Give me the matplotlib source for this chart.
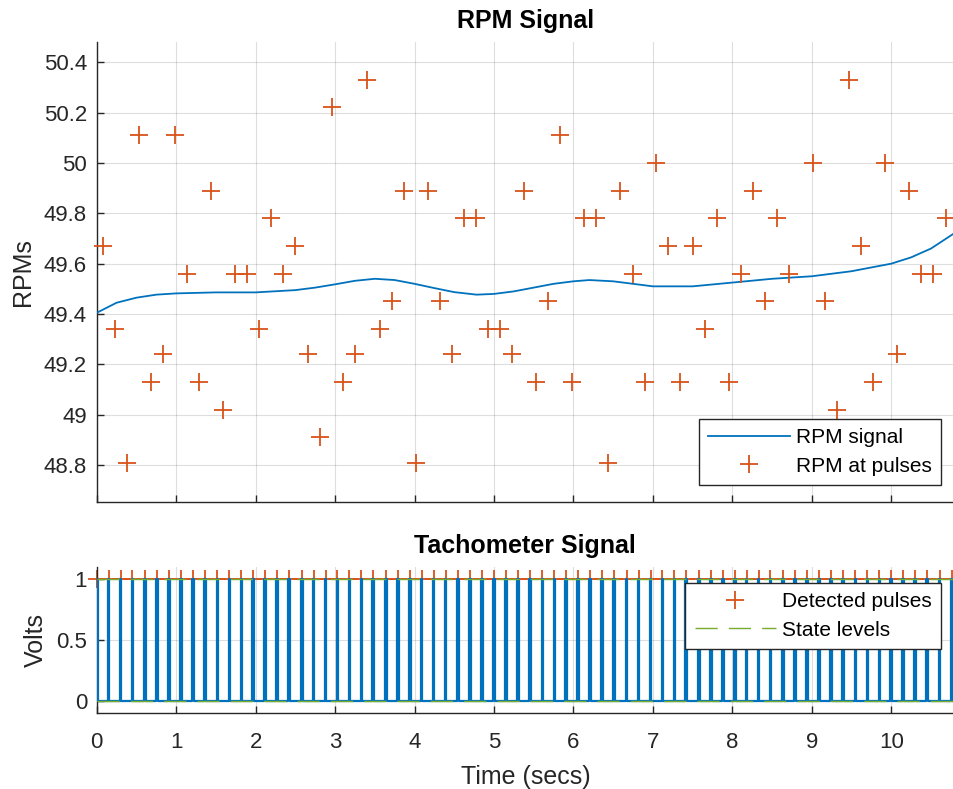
import matplotlib
matplotlib.use('Agg')
import matplotlib.pyplot as plt
from matplotlib.ticker import FormatStrFormatter
import numpy as np

plt.rcParams['font.family'] = ['Liberation Sans', 'DejaVu Sans']

# pulse times of the tachometer signal (secs)
pulse_times = [0.00, 0.15, 0.30, 0.45, 0.61, 0.76, 0.91, 1.06, 1.21, 1.36,
               1.52, 1.67, 1.82, 1.97, 2.12, 2.27, 2.42, 2.58, 2.73, 2.88,
               3.03, 3.18, 3.33, 3.48, 3.64, 3.79, 3.94, 4.09, 4.24, 4.39,
               4.55, 4.70, 4.85, 5.00, 5.15, 5.30, 5.45, 5.61, 5.76, 5.91,
               6.06, 6.21, 6.36, 6.51, 6.67, 6.82, 6.97, 7.12, 7.27, 7.42,
               7.58, 7.73, 7.88, 8.03, 8.18, 8.33, 8.48, 8.64, 8.79, 8.94,
               9.09, 9.24, 9.39, 9.55, 9.70, 9.85, 10.00, 10.15, 10.30, 10.45,
               10.61, 10.76]

# rpm estimated between consecutive pulses
rpm_at_pulses = [49.67, 49.34, 48.81, 50.11, 49.13, 49.24, 50.11, 49.56, 49.13, 49.89,
                 49.02, 49.56, 49.56, 49.34, 49.78, 49.56, 49.67, 49.24, 48.91, 50.22,
                 49.13, 49.24, 50.33, 49.34, 49.45, 49.89, 48.81, 49.89, 49.45, 49.24,
                 49.78, 49.78, 49.34, 49.34, 49.24, 49.89, 49.13, 49.45, 50.11, 49.13,
                 49.78, 49.78, 48.81, 49.89, 49.56, 49.13, 50.00, 49.67, 49.13, 49.67,
                 49.34, 49.78, 49.13, 49.56, 49.89, 49.45, 49.78, 49.56, 48.91, 50.00,
                 49.45, 49.02, 50.33, 49.67, 49.13, 50.00, 49.24, 49.89, 49.56, 49.56,
                 49.78]

# smooth rpm signal
rpm_t = [0.0, 0.25, 0.5, 0.75, 1.0, 1.5, 2.0, 2.5, 2.75, 3.0, 3.25, 3.5, 3.75,
         4.0, 4.25, 4.5, 4.78, 5.0, 5.25, 5.5, 5.75, 6.0, 6.2, 6.5, 6.75, 7.0,
         7.5, 8.0, 8.5, 9.0, 9.5, 10.0, 10.25, 10.5, 10.79]
rpm_sig = [49.405, 49.445, 49.465, 49.477, 49.482, 49.486, 49.486, 49.495, 49.505,
           49.518, 49.532, 49.54, 49.535, 49.52, 49.503, 49.487, 49.477, 49.48,
           49.49, 49.505, 49.52, 49.53, 49.535, 49.53, 49.52, 49.51, 49.51, 49.525,
           49.54, 49.55, 49.57, 49.60, 49.625, 49.66, 49.72]

state_levels = [0, 1]

BLUE = '#0072BD'
ORANGE = '#D95319'
GREEN = '#77AC30'
DARK = '#262626'

X_MAX = 10.79
PULSE_W = 0.01

pt = np.array(pulse_times)
mid_t = (pt[:-1] + pt[1:]) / 2

# square pulse train built from the pulse times
sig_x = np.column_stack([pt - PULSE_W, pt - PULSE_W, pt + PULSE_W, pt + PULSE_W]).ravel()
sig_y = np.tile([0, 1, 1, 0], len(pt))
sig_x = np.append(sig_x, X_MAX + 0.1)
sig_y = np.append(sig_y, 0)


def style_axes(ax):
    ax.spines['top'].set_visible(False)
    ax.spines['right'].set_visible(False)
    for s in ['left', 'bottom']:
        ax.spines[s].set_color(DARK)
        ax.spines[s].set_linewidth(1.0)
    ax.tick_params(direction='in', length=5, width=1, colors=DARK, labelsize=16)
    ax.tick_params(axis='y', pad=7)
    ax.tick_params(axis='x', pad=14)
    ax.grid(True, color=DARK, alpha=0.15, linewidth=0.8)
    ax.set_axisbelow(True)


def style_legend(leg):
    leg.get_frame().set_linewidth(1.0)
    leg.set_zorder(5)


fig = plt.figure(figsize=(9.54, 7.89), dpi=100)
ax1 = fig.add_axes([0.1014, 0.3641, 0.8986, 0.583])
ax2 = fig.add_axes([0.1014, 0.0963, 0.8986, 0.1851])

legend_kw = dict(borderaxespad=0, fontsize=15, fancybox=False, framealpha=1,
                 edgecolor=DARK, handlelength=3.9, handletextpad=0.3,
                 labelspacing=0.45, borderpad=0.45)

# ---- RPM signal
ax1.plot(rpm_t, rpm_sig, color=BLUE, lw=1.3, label='RPM signal', zorder=3)
ax1.plot(mid_t, rpm_at_pulses, '+', color=ORANGE, ms=13, mew=1.3,
         label='RPM at pulses', zorder=3, clip_on=False)
style_axes(ax1)
ax1.set_xlim(0, X_MAX)
ax1.set_ylim(48.655, 50.481)
ax1.set_xticks(range(0, 11))
ax1.set_xticklabels([])
ax1.set_yticks(np.round(np.arange(48.8, 50.41, 0.2), 1))
ax1.yaxis.set_major_formatter(FormatStrFormatter('%g'))
ax1.set_ylabel('RPMs', fontsize=18, color=DARK, labelpad=6)
ax1.set_title('RPM Signal', fontsize=18, fontweight='bold', pad=10)
leg1 = ax1.legend(loc='lower right', bbox_to_anchor=(0.985, 0.036), **legend_kw)
style_legend(leg1)

# ---- Tachometer signal
ax2.plot(sig_x, sig_y, color=BLUE, lw=1.6, label='_nolegend_', zorder=3)
ax2.plot(pt, np.ones_like(pt), '+', color=ORANGE, ms=13, mew=1.3,
         label='Detected pulses', zorder=2, clip_on=False)
for i, lvl in enumerate(state_levels):
    ax2.axhline(lvl, color=GREEN, lw=1.0, linestyle=(0, (16, 8)),
                label='State levels' if i == 0 else '_nolegend_', zorder=4)
style_axes(ax2)
ax2.set_xlim(0, X_MAX)
ax2.set_ylim(-0.1, 1.1)
ax2.set_xticks(range(0, 11))
ax2.set_yticks([0, 0.5, 1])
ax2.yaxis.set_major_formatter(FormatStrFormatter('%g'))
ax2.set_ylabel('Volts', fontsize=18, color=DARK, labelpad=6)
ax2.set_xlabel('Time (secs)', fontsize=18, color=DARK, labelpad=8)
ax2.set_title('Tachometer Signal', fontsize=18, fontweight='bold', pad=10)
leg2 = ax2.legend(loc='upper right', bbox_to_anchor=(0.985, 0.89), **legend_kw)
style_legend(leg2)

fig.savefig('out.png', dpi=100)
